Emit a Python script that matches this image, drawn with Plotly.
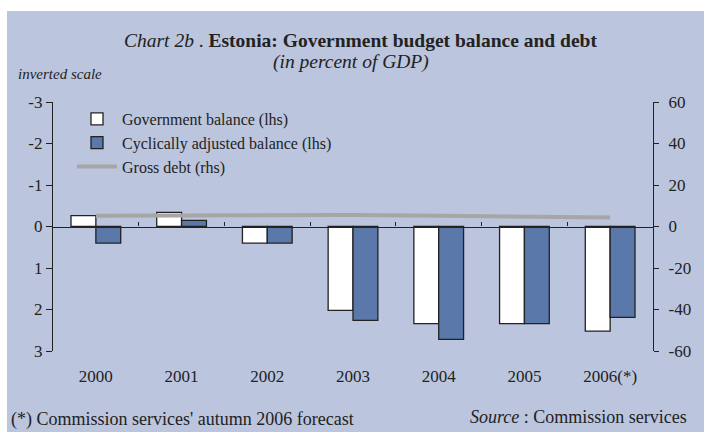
import plotly.graph_objects as go

years = ["2000", "2001", "2002", "2003", "2004", "2005", "2006(*)"]
gov_balance = [-0.26, -0.34, 0.40, 2.02, 2.34, 2.34, 2.52]
cyc_balance = [0.40, -0.15, 0.40, 2.26, 2.72, 2.34, 2.19]
gross_debt = [5.2, 5.4, 5.7, 5.6, 5.2, 4.6, 4.3]
left_ticks = [-3, -2, -1, 0, 1, 2, 3]
left_labels = ["-3", "-2", "-1", "0", "1", "2", "3"]
right_ticks = [60, 40, 20, 0, -20, -40, -60]
right_labels = ["60", "40", "20", "0", "-20", "-40", "-60"]

W, H = 704, 432
ML, MR, MT, MB = 53, 51, 102, 81
PW, PH = W - ML - MR, H - MT - MB

def px(x):
    return (x - ML) / PW

def py(y):
    return (H - MB - y) / PH

BG = "rgb(187,197,222)"
INK = "#222222"
FONT = "Liberation Serif"

fig = go.Figure()
fig.add_trace(go.Bar(x=years, y=gov_balance, name="Government balance (lhs)",
                     marker=dict(color="white", line=dict(color=INK, width=1.3))))
fig.add_trace(go.Bar(x=years, y=cyc_balance, name="Cyclically adjusted balance (lhs)",
                     marker=dict(color="rgb(90,120,170)", line=dict(color=INK, width=1.3))))
fig.add_trace(go.Scatter(x=years, y=gross_debt, name="Gross debt (rhs)", mode="lines",
                         line=dict(color="rgb(166,166,166)", width=4),
                         xaxis="x2", yaxis="y2"))

fig.update_layout(
    width=W, height=H,
    margin=dict(l=ML, r=MR, t=MT, b=MB),
    paper_bgcolor=BG, plot_bgcolor=BG,
    font=dict(family=FONT, size=17, color=INK),
    barmode="group", bargap=0.42, bargroupgap=0,
    showlegend=True,
    legend=dict(x=px(72), y=py(102), xanchor="left", yanchor="top",
                bgcolor="rgba(0,0,0,0)", font=dict(size=16, family=FONT),
                tracegroupgap=0, itemwidth=40),
    xaxis=dict(type="category", range=[-0.5, 6.5], showline=False, ticks="",
               showgrid=False, zeroline=False, ticklabelstandoff=13,
               tickfont=dict(size=17)),
    xaxis2=dict(type="category", range=[-0.5, 6.5], overlaying="x", anchor="free",
                position=0.5, showline=True, linecolor=INK, linewidth=1.3,
                ticks="inside", tickson="boundaries", ticklen=4, tickcolor=INK,
                tickwidth=1.3, showticklabels=False, showgrid=False, zeroline=False),
    yaxis=dict(range=[3, -3], tickvals=left_ticks, ticktext=left_labels,
               ticks="outside", ticklen=6, tickcolor=INK, tickwidth=1.3,
               showline=True, linecolor=INK, linewidth=1.3, showgrid=False,
               zeroline=False, tickfont=dict(size=17)),
    yaxis2=dict(range=[-60, 60], tickvals=right_ticks, ticktext=right_labels,
                overlaying="y", side="right", anchor="x",
                ticks="outside", ticklen=5, tickcolor=INK, tickwidth=1.3,
                ticklabelstandoff=6,
                showline=True, linecolor=INK, linewidth=1.3, showgrid=False,
                zeroline=False, tickfont=dict(size=17)),
    yaxis3=dict(range=[-60, 60], tickvals=right_ticks, overlaying="y", side="right",
                anchor="x", ticks="inside", ticklen=5, tickcolor=INK, tickwidth=1.3,
                showticklabels=False, showline=False, showgrid=False, zeroline=False),
)

# white strips at top and left edges
fig.add_shape(type="rect", xref="paper", yref="paper", x0=px(0), x1=px(W), y0=py(11), y1=py(0),
              fillcolor="white", line=dict(width=0), layer="below")
fig.add_shape(type="rect", xref="paper", yref="paper", x0=px(0), x1=px(7), y0=py(H), y1=py(0),
              fillcolor="white", line=dict(width=0), layer="below")

fig.add_annotation(xref="paper", yref="paper", x=px(360), y=py(40), xanchor="center", yanchor="middle",
                   text="<i>Chart 2b</i> . <b>Estonia: Government budget balance and debt</b>",
                   showarrow=False, font=dict(size=19.5, family=FONT))
fig.add_annotation(xref="paper", yref="paper", x=px(351), y=py(62), xanchor="center", yanchor="middle",
                   text="<i>(in percent of GDP)</i>", showarrow=False, font=dict(size=19.5, family=FONT))
fig.add_annotation(xref="paper", yref="paper", x=px(16), y=py(74), xanchor="left", yanchor="middle",
                   text="<i>inverted scale</i>", showarrow=False, font=dict(size=15, family=FONT))
fig.add_annotation(xref="paper", yref="paper", x=px(9), y=py(419), xanchor="left", yanchor="middle",
                   text="(*) Commission services' autumn 2006 forecast", showarrow=False,
                   font=dict(size=18, family=FONT))
fig.add_annotation(xref="paper", yref="paper", x=px(689), y=py(417), xanchor="right", yanchor="middle",
                   text="<i>Source</i> : Commission services", showarrow=False,
                   font=dict(size=18, family=FONT))

fig.write_html("out.html", config={"displayModeBar": False},
               post_script="document.body.style.margin='0';")
